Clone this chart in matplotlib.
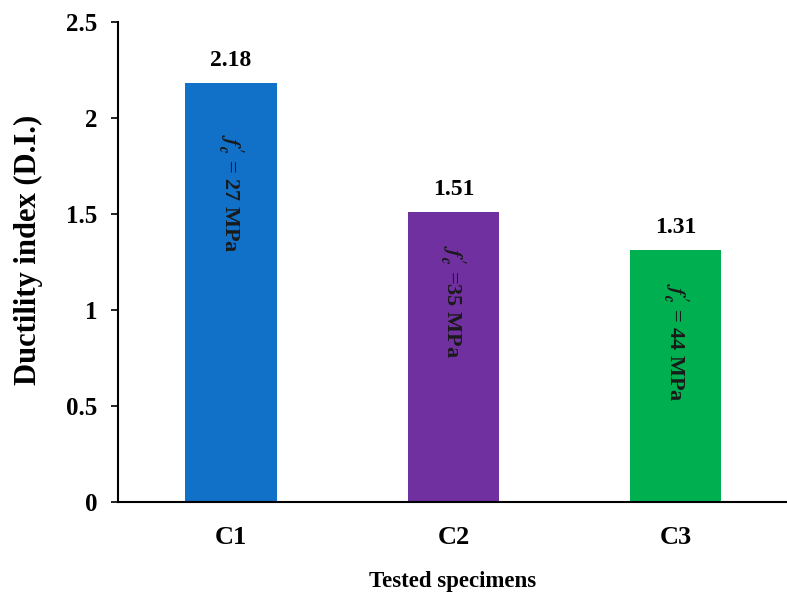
import matplotlib
matplotlib.use("Agg")
import matplotlib.pyplot as plt

# Data
specimens = ["C1", "C2", "C3"]
ductility = [2.18, 1.51, 1.31]
strength_labels = [r"$f_c'$ = 27 MPa", r"$f_c'$ =35 MPa", r"$f_c'$ = 44 MPa"]
strength_pos = [1.61, 1.045, 0.83]  # vertical centre of the in-bar text
bar_colors = ["#1170C8", "#7030A0", "#00B050"]

plt.rcParams["font.family"] = "Liberation Serif"
plt.rcParams["font.weight"] = "bold"
plt.rcParams["mathtext.fontset"] = "stix"

fig = plt.figure(figsize=(7.87, 5.99), dpi=100)
ax = fig.add_axes([118 / 787, 1 - 502 / 599, 1 - 118 / 787, 480 / 599])

x = range(len(specimens))
ax.bar(x, ductility, width=0.41, color=bar_colors)

for xi, v in zip(x, ductility):
    ax.text(xi, v + 0.12, f"{v:.2f}", ha="center", va="center",
            fontsize=17, fontweight="bold")

for xi, lab, yp in zip(x, strength_labels, strength_pos):
    ax.text(xi, yp, lab, rotation=270, ha="center", va="center",
            fontsize=16, fontweight="bold", color="#1a1a1a")

ax.set_xlim(-0.508, 2.5)
ax.set_ylim(0, 2.5)
ax.set_yticks([0, 0.5, 1, 1.5, 2, 2.5])
ax.set_yticklabels(["0", "0.5", "1", "1.5", "2", "2.5"])
ax.set_xticks(list(x))
ax.set_xticklabels(specimens)
ax.tick_params(axis="x", length=0, labelsize=19, pad=17)
ax.tick_params(axis="y", length=5, width=1.2, labelsize=18, pad=10)

for side in ["top", "right"]:
    ax.spines[side].set_visible(False)
ax.spines["left"].set_linewidth(1.5)
ax.spines["bottom"].set_linewidth(1.5)

fig.text(453 / 787, 1 - 581 / 599, "Tested specimens", ha="center", va="center",
         fontsize=16.5, fontweight="bold")
fig.text(28 / 787, 1 - 250 / 599, "Ductility index (D.I.)", ha="center", va="center",
         rotation=90, fontsize=22, fontweight="bold")

fig.savefig("out.png", dpi=100)
